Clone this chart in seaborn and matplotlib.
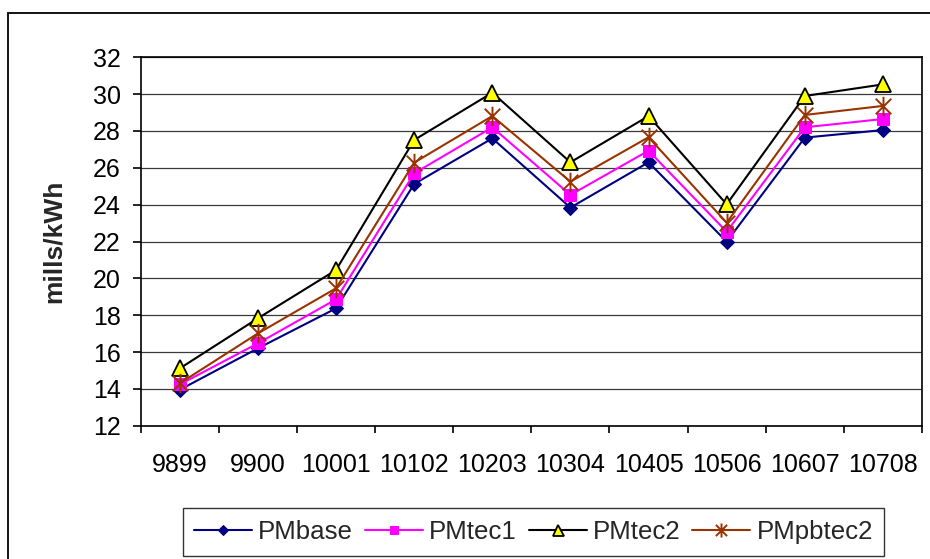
import matplotlib
matplotlib.use("Agg")
import matplotlib.pyplot as plt
import seaborn as sns
import pandas as pd
from matplotlib.path import Path
from matplotlib.patches import Rectangle
from matplotlib.ticker import MultipleLocator, FixedLocator

categories = ["9899", "9900", "10001", "10102", "10203", "10304", "10405", "10506", "10607", "10708"]
pm_base = [13.95, 16.2, 18.37, 25.12, 27.6, 23.84, 26.3, 21.99, 27.64, 28.05]
pm_tec1 = [14.24, 16.47, 18.86, 25.7, 28.2, 24.53, 26.93, 22.53, 28.2, 28.65]
pm_tec2 = [15.11, 17.83, 20.45, 27.51, 30.08, 26.3, 28.81, 24.02, 29.9, 30.53]
pm_pbtec2 = [14.3, 17.01, 19.46, 26.28, 28.81, 25.25, 27.66, 23.02, 28.87, 29.36]
series_names = ["PMbase", "PMtec1", "PMtec2", "PMpbtec2"]
y_label = "mills/kWh"

sns.set_theme(style="white")
plt.rcParams["font.family"] = ["Liberation Sans", "DejaVu Sans"]

asterisk = Path([(-1, -1), (1, 1), (-1, 1), (1, -1), (0, -1.25), (0, 1.25)],
                [Path.MOVETO, Path.LINETO, Path.MOVETO, Path.LINETO, Path.MOVETO, Path.LINETO])

fig = plt.figure(figsize=(9.3, 5.59), dpi=100)
ax = fig.add_axes([140.7 / 930, 1 - 425.7 / 559, (922 - 140.7) / 930, (425.7 - 57.3) / 559])

styles = [
    dict(color="#000080", marker="D", markersize=7.5, markerfacecolor="#000080", markeredgecolor="#000080"),
    dict(color="#FF00FF", marker="s", markersize=8.5, markerfacecolor="#FF00FF", markeredgecolor="#FF00FF"),
    dict(color="#000000", marker="^", markersize=11, markerfacecolor="#FFFF00", markeredgecolor="#000000", markeredgewidth=1.3),
    dict(color="#993300", marker=asterisk, markersize=14, markerfacecolor="none", markeredgecolor="#993300", markeredgewidth=1.4),
]
values = [pm_base, pm_tec1, pm_tec2, pm_pbtec2]
for name, vals, st in zip(series_names, values, styles):
    df = pd.DataFrame({"cat": categories, "val": vals})
    sns.lineplot(data=df, x="cat", y="val", ax=ax, label=name, linewidth=1.5, sort=False, **st)

ax.set_xlim(-0.5, 9.5)
ax.set_ylim(12, 32)
ax.yaxis.set_major_locator(MultipleLocator(2))
ax.grid(axis="y", color="#3a3a3a", linewidth=0.9)
ax.grid(axis="x", visible=False)
for s in ax.spines.values():
    s.set_color("black")
    s.set_linewidth(1.2)
ax.set_xlabel("")
ax.set_ylabel(y_label, fontsize=19, fontweight="bold")
ax.yaxis.set_label_coords(-0.096, 0.5)
ax.set_xticks(range(len(categories)))
ax.set_xticklabels(categories)
ax.xaxis.set_minor_locator(FixedLocator([i - 0.5 for i in range(len(categories) + 1)]))
ax.tick_params(axis="x", which="major", length=0, pad=20, labelsize=18, colors="black")
ax.tick_params(axis="x", which="minor", bottom=True, length=5, width=1.2, color="black")
ax.tick_params(axis="y", which="major", left=True, length=5.8, width=1.2, pad=8.6, labelsize=18, colors="black")

leg = ax.legend(loc="center", bbox_to_anchor=(533.5 / 930, 1 - 532 / 559), bbox_transform=fig.transFigure,
                ncol=4, fontsize=18.6, frameon=True, fancybox=False, edgecolor="black",
                handlelength=2.25, handletextpad=0.23, columnspacing=0.46, borderpad=0.45, borderaxespad=0)
leg.get_frame().set_linewidth(1.0)
for h in leg.legend_handles:
    h.set_markersize(h.get_markersize() * 0.72)

fig.patches.append(Rectangle((8 / 930, -0.02), 1.0, (559 - 13) / 559 + 0.02, transform=fig.transFigure,
                             fill=False, edgecolor="black", linewidth=1.3))

fig.savefig("out.png", dpi=100, facecolor="white")
